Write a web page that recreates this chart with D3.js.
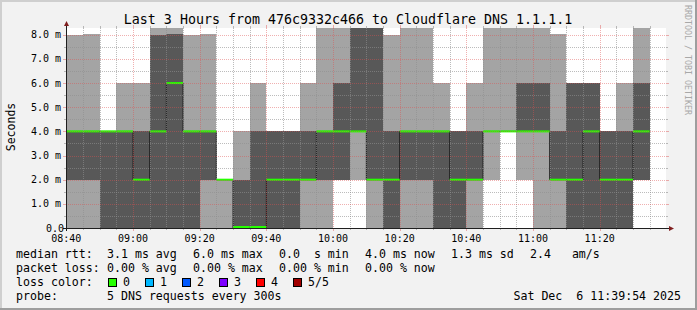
<!DOCTYPE html>
<html>
<head>
<meta charset="utf-8">
<script src="https://cdn.jsdelivr.net/npm/d3@7"></script>
<style>
  html, body { margin: 0; padding: 0; background: #f2f2f2; }
  svg { display: block; }
  text { font-family: "DejaVu Sans Mono", monospace; fill: #000; white-space: pre; }
</style>
</head>
<body>
<svg id="chart" width="697" height="310"></svg>
<script>
// step start times (5 min steps)
const stepTimes = ['08:40', '08:45', '08:50', '08:55', '09:00', '09:05', '09:10', '09:15', '09:20',
    '09:25', '09:30', '09:35', '09:40', '09:45', '09:50', '09:55', '10:00', '10:05', '10:10',
    '10:15', '10:20', '10:25', '10:30', '10:35', '10:40', '10:45', '10:50', '10:55', '11:00',
    '11:05', '11:10', '11:15', '11:20', '11:25', '11:30'];

// sorted ping results per step, ms
const ping1 = [0, 0, 0, 0, 0, 0, 0, 0, 0, 0, 0, 0, 0, 0, 0, 0, 2, 2, 0, 0, 0, 0, 0, 0, 0, 2, 4, 2, 0, 0, 0, 0, 0, 0, 2];
const ping2 = [2, 2, 0, 0, 0, 0, 0, 0, 2, 2, 0, 0, 0, 0, 2, 2, 2, 4, 2, 0, 2, 2, 0, 0, 2, 4, 4, 4, 4, 2, 0, 0, 0, 0, 2];
const median = [4, 4, 4, 4, 2, 4, 6, 4, 4, 2, 0, 0, 2, 2, 2, 4, 4, 4, 2, 2, 4, 4, 4, 2, 2, 4, 4, 4, 4, 2, 2, 4, 2, 2, 4];
const ping4 = [4, 4, 4, 4, 4, 8, 8.05, 4, 4, 2, 2, 4, 4, 4, 4, 4, 6, 9, 9, 4, 4, 4, 4, 4, 4, 4, 4, 6, 6, 4, 6, 6.02, 4, 4, 6];
const ping5 = [8, 8.05, 4, 6, 6.02, 9, 9, 8, 8.05, 2, 4, 6, 4, 4, 6, 9, 9, 9, 9, 8, 9, 9, 6, 4, 6, 9, 9, 9, 9, 8.05, 6, 6.02, 4, 6, 9];

const xTickLabels = ['08:40', '09:00', '09:20', '09:40', '10:00', '10:20', '10:40', '11:00', '11:20'];
const yTickValues = [0, 1, 2, 3, 4, 5, 6, 7, 8];
const yTickLabels = ['0.0', '1.0 m', '2.0 m', '3.0 m', '4.0 m', '5.0 m', '6.0 m', '7.0 m', '8.0 m'];

const rttStats = ['3.1 ms avg', '6.0 ms max', '0.0  s min', '4.0 ms now', '1.3 ms sd', '2.4   am/s'];
const lossStats = ['0.00 % avg', '0.00 % max', '0.00 % min', '0.00 % now'];
const lossLevels = ['0', '1', '2', '3', '4', '5/5'];
const lossColors = ['#26ff00', '#00b8ff', '#0059ff', '#7e00ff', '#ff0000', '#a10000'];

const W = 697, H = 310;
const plot = { left: 66, right: 666, top: 28, bottom: 228 };
const parse = d3.timeParse('%Y-%m-%d %H:%M:%S');
const day = '2025-12-06 ';

const x = d3.scaleTime()
    .domain([parse(day + '08:39:54'), parse(day + '11:39:54')])
    .range([plot.left, plot.right]);
const y = d3.scaleLinear().domain([0, 8.28]).range([plot.bottom, plot.top]);

const rows = stepTimes.map((t, i) => {
    const t0 = parse(day + t + ':00');
    return { t0: t0, t1: d3.timeMinute.offset(t0, 5), p: [ping1[i], ping2[i], median[i], ping4[i], ping5[i]] };
});

const svg = d3.select('#chart');

// background + frame
svg.append('rect').attr('width', W).attr('height', H).attr('fill', '#f2f2f2');
svg.append('line').attr('x1', 0).attr('x2', W).attr('y1', 1).attr('y2', 1).attr('stroke', '#cfcfcf').attr('stroke-width', 2);
svg.append('line').attr('x1', 1).attr('x2', 1).attr('y1', 0).attr('y2', H).attr('stroke', '#cfcfcf').attr('stroke-width', 2);
svg.append('line').attr('x1', 0).attr('x2', W).attr('y1', H - 1).attr('y2', H - 1).attr('stroke', '#9e9e9e').attr('stroke-width', 2);
svg.append('line').attr('x1', W - 1).attr('x2', W - 1).attr('y1', 0).attr('y2', H).attr('stroke', '#9e9e9e').attr('stroke-width', 2);

// canvas
svg.append('rect')
    .attr('x', plot.left).attr('y', plot.top)
    .attr('width', plot.right - plot.left).attr('height', plot.bottom - plot.top)
    .attr('fill', '#ffffff');

svg.append('clipPath').attr('id', 'clip')
    .append('rect')
    .attr('x', plot.left).attr('y', plot.top)
    .attr('width', plot.right - plot.left).attr('height', plot.bottom - plot.top);

const g = svg.append('g').attr('clip-path', 'url(#clip)');

// smoke
g.selectAll('.smoke1').data(rows).join('rect')
    .attr('class', 'smoke1')
    .attr('shape-rendering', 'crispEdges')
    .attr('x', d => x(d.t0))
    .attr('width', d => x(d.t1) - x(d.t0))
    .attr('y', d => y(d.p[4]))
    .attr('height', d => y(d.p[0]) - y(d.p[4]))
    .attr('fill', '#a4a4a4');

g.selectAll('.smoke2').data(rows).join('rect')
    .attr('class', 'smoke2')
    .attr('shape-rendering', 'crispEdges')
    .attr('x', d => x(d.t0))
    .attr('width', d => x(d.t1) - x(d.t0))
    .attr('y', d => y(d.p[3]))
    .attr('height', d => y(d.p[1]) - y(d.p[3]))
    .attr('fill', '#585858');

// grid
const gridColor = 'rgba(143,143,143,0.6)';
const mgridColor = 'rgba(222,79,79,0.45)';
const yMinor = d3.range(0.5, 8.3, 1);
const yMajor = yTickValues.filter(v => v > 0);
const allMinutes = x.ticks(d3.timeMinute.every(5));
const xMinor = allMinutes.filter(t => t.getMinutes() % 20 !== 0);
const xMajor = allMinutes.filter(t => t.getMinutes() % 20 === 0 && x(t) > plot.left + 2);

const grid = svg.append('g').attr('shape-rendering', 'crispEdges');

function hLines(vals, color, tick) {
    vals.forEach(v => {
        const yy = Math.round(y(v)) + 0.5;
        grid.append('line').attr('x1', plot.left).attr('x2', plot.right).attr('y1', yy).attr('y2', yy)
            .attr('stroke', color).attr('stroke-dasharray', '1,1');
        grid.append('line').attr('x1', plot.left - tick).attr('x2', plot.left).attr('y1', yy).attr('y2', yy)
            .attr('stroke', color);
        grid.append('line').attr('x1', plot.right).attr('x2', plot.right + tick).attr('y1', yy).attr('y2', yy)
            .attr('stroke', color);
    });
}
function vLines(vals, color, tick) {
    vals.forEach(t => {
        const xx = Math.round(x(t)) + 0.5;
        grid.append('line').attr('x1', xx).attr('x2', xx).attr('y1', plot.top).attr('y2', plot.bottom)
            .attr('stroke', color).attr('stroke-dasharray', '1,1');
        grid.append('line').attr('x1', xx).attr('x2', xx).attr('y1', plot.bottom).attr('y2', plot.bottom + tick)
            .attr('stroke', color);
        grid.append('line').attr('x1', xx).attr('x2', xx).attr('y1', plot.top - tick).attr('y2', plot.top)
            .attr('stroke', color);
    });
}
hLines(yMinor, gridColor, 2);
vLines(xMinor, gridColor, 2);
hLines(yMajor, mgridColor, 3);
vLines(xMajor, mgridColor, 3);

// median line
const pts = rows.map(d => [x(d.t0), y(d.p[2])]);
pts.push([x(rows[rows.length - 1].t1), y(median[median.length - 1])]);
g.append('path')
    .attr('d', d3.line().curve(d3.curveStepAfter)(pts))
    .attr('fill', 'none')
    .attr('stroke', '#202020')
    .attr('stroke-width', 1);

g.selectAll('.med').data(rows).join('rect')
    .attr('class', 'med')
    .attr('x', d => x(d.t0))
    .attr('width', d => x(d.t1) - x(d.t0))
    .attr('y', d => y(d.p[2]) - (d.p[2] === 0 ? 2 : 1))
    .attr('height', 2)
    .attr('fill', lossColors[0]);

// axes
svg.append('line').attr('x1', plot.left - 3).attr('x2', plot.right + 4)
    .attr('y1', plot.bottom + 0.5).attr('y2', plot.bottom + 0.5).attr('stroke', '#1f1f1f');
svg.append('line').attr('x1', plot.left + 0.5).attr('x2', plot.left + 0.5)
    .attr('y1', plot.bottom + 3).attr('y2', plot.top - 4).attr('stroke', '#1f1f1f');
svg.append('path')
    .attr('d', `M${plot.left - 2},${plot.top - 2} L${plot.left + 3},${plot.top - 2} L${plot.left + 0.5},${plot.top - 7} Z`)
    .attr('fill', '#801f1f');
svg.append('path')
    .attr('d', `M${plot.right + 3},${plot.bottom - 2} L${plot.right + 3},${plot.bottom + 3} L${plot.right + 8},${plot.bottom + 0.5} Z`)
    .attr('fill', '#801f1f');

// title
svg.append('text').attr('x', 348).attr('y', 24).attr('text-anchor', 'middle')
    .style('font-size', '13.3px')
    .text('Last 3 Hours from 476c9332c466 to Cloudflare DNS 1.1.1.1');

// x labels
xTickLabels.forEach(s => {
    svg.append('text').attr('x', x(parse(day + s + ':00'))).attr('y', 241.5)
        .attr('text-anchor', 'middle').style('font-size', '10px').text(s);
});

// y labels
yTickValues.forEach((v, i) => {
    svg.append('text').attr('x', v === 0 ? 64 : 61).attr('y', y(v) + 3.5)
        .attr('text-anchor', 'end').style('font-size', '10px').text(yTickLabels[i]);
});

// axis title
svg.append('text').attr('transform', 'translate(15,127) rotate(-90)')
    .attr('text-anchor', 'middle').style('font-size', '11.5px').text('Seconds');

// watermark
svg.append('text').attr('transform', 'translate(684.5,5) rotate(90)')
    .style('font-size', '8.3px').style('fill', '#a8a8a8').text('RRDTOOL / TOBI OETIKER');

// legend
const legendX = [107, 193, 279, 365, 451, 530];
const fs = '11.6px';
svg.append('text').attr('x', 16).attr('y', 258).style('font-size', fs).text('median rtt:');
rttStats.forEach((s, i) => {
    svg.append('text').attr('x', legendX[i]).attr('y', 258).style('font-size', fs).text(s);
});
svg.append('text').attr('x', 16).attr('y', 272).style('font-size', fs).text('packet loss:');
lossStats.forEach((s, i) => {
    svg.append('text').attr('x', legendX[i]).attr('y', 272).style('font-size', fs).text(s);
});
svg.append('text').attr('x', 16).attr('y', 286).style('font-size', fs).text('loss color:');
lossLevels.forEach((s, i) => {
    const bx = 108 + 37 * i;
    svg.append('rect').attr('x', bx + 0.5).attr('y', 278.5).attr('width', 8).attr('height', 8)
        .attr('fill', lossColors[i]).attr('stroke', '#000').attr('stroke-width', 1);
    svg.append('text').attr('x', bx + 15).attr('y', 286).style('font-size', fs).text(s);
});
svg.append('text').attr('x', 16).attr('y', 300).style('font-size', fs).text('probe:');
svg.append('text').attr('x', 107).attr('y', 300).style('font-size', fs).text('5 DNS requests every 300s');
svg.append('text').attr('x', 681).attr('y', 300).attr('text-anchor', 'end').style('font-size', fs)
    .text('Sat Dec  6 11:39:54 2025');
</script>
</body>
</html>
